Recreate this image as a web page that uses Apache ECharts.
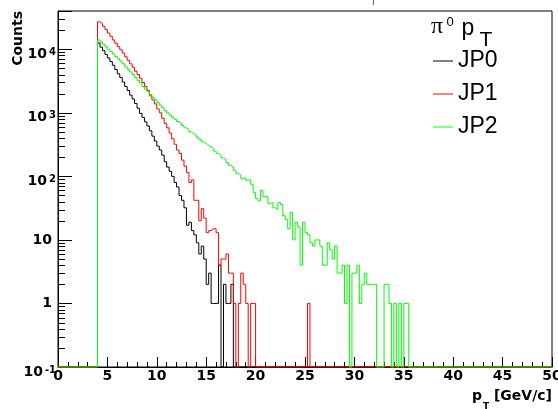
<!DOCTYPE html>
<html><head><meta charset="utf-8">
<script src="https://cdn.jsdelivr.net/npm/echarts@6/dist/echarts.min.js"></script>
<style>html,body{margin:0;padding:0;background:#fff}#c{width:558px;height:409px}</style>
</head><body><div id="c"></div>
<script>
// ---- data (histogram bin contents, bins of 0.25 GeV starting at 4.0 GeV) ----
const binWidth = 0.25;
const firstBinLow = 4.0;
const nBins = 200;           // 0 .. 50 GeV
const xMin = 0, xMax = 50, xInterval = 5;
const yMin = 0.1, yMax = 40000;
const seriesNames = ['JP0', 'JP1', 'JP2'];
const seriesColors = ['#000000', '#ff0000', '#00ff00'];

const jp0 = [12500,10800,9500,8300,7300,6400,5600,4800,4100,3600,3050,2600,2250,1900,1650,1400,
  1180,980,850,720,620,520,430,360,300,260,215,170,140,120,100,80,
  68,50,42,32,17,19,14,12,9,6,8,5,2,3,1,1,
  1,4,0,2,1,1,2];

const jp1 = [27000,25500,23000,20500,18000,16000,14000,12400,11000,9800,8700,7600,6700,5900,5200,4500,
  4000,3500,3000,2600,2250,1850,1600,1380,1150,1000,820,680,580,480,390,320,
  260,230,180,145,115,80,88,42,42,20,31,22,13,14,15,15,
  13,4,5,5,6,3,3,1,0,1,3,2,1,0,1,1,
  0,0,0,0,0,0,0,0,0,0,0,0,0,0,0,0,0,0,0,0,0,
  1];

const jp2 = [14000,13000,12000,11000,10000,9200,8400,7700,7100,6500,5900,5300,4800,4400,4000,3600,
  3250,2950,2600,2350,2150,1950,1750,1600,1450,1320,1200,1080,1000,920,850,790,
  730,680,630,580,550,500,470,450,410,380,350,330,310,290,275,250,
  230,215,195,185,165,150,140,125,112,105,92,95,87,88,75,56,
  45,41,60,48,48,37,39,32,30,39,36,24,21,15,27,10,
  19,16,4,19,13,12,9,8,10,10,8,4,4,9,7,5,
  8,3,3,4,1,4,0,3,3,4,1,2,3,2,2,2,
  2,0,0,0,2,2,1,0,1,0,1,0,1,1];

const yMinorTickValues = [];
for (let n = -1; n <= 4; n++) for (let k = 2; k <= 9; k++) {
  const v = k * Math.pow(10, n);
  if (v <= yMax) yMinorTickValues.push(v);
}

function histData(vals) {
  const start = Math.round(firstBinLow / binWidth);
  const pts = [];
  for (let i = 0; i < nBins; i++) {
    const k = i - start;
    const v = (k >= 0 && k < vals.length) ? vals[k] : 0;
    pts.push([i * binWidth, v > 0 ? v : yMin]);
  }
  pts.push([nBins * binWidth, pts[pts.length - 1][1]]);
  return pts;
}

const chart = echarts.init(document.getElementById('c'), null, {renderer: 'canvas'});
const F = 'DejaVu Sans';
const allVals = [jp0, jp1, jp2];

const option = {
  animation: false,
  backgroundColor: '#ffffff',
  grid: {left: 58, right: 6, top: 11, bottom: 42, show: true, borderColor: '#000', borderWidth: 1,
         containLabel: false, outerBoundsMode: 'none'},
  legend: {
    show: true, data: seriesNames, orient: 'vertical', left: 433, top: 49,
    itemWidth: 20, itemHeight: 1, itemGap: 9, icon: 'rect', padding: 0, selectedMode: false,
    textStyle: {fontFamily: 'Liberation Sans', fontSize: 23, color: '#000', lineHeight: 24}
  },
  xAxis: {
    type: 'value', min: xMin, max: xMax, interval: xInterval,
    axisLine: {show: true, onZero: false, lineStyle: {color: '#000', width: 1}},
    axisTick: {show: true, inside: true, length: 10, lineStyle: {color: '#000', width: 1}},
    minorTick: {show: true, splitNumber: 5, length: 5, lineStyle: {color: '#000', width: 1}},
    splitLine: {show: false},
    axisLabel: {fontFamily: F, fontWeight: 'bold', fontSize: 14, color: '#000', margin: 2}
  },
  yAxis: {
    type: 'log', logBase: 10, min: yMin, max: yMax,
    axisLine: {show: true, onZero: false, lineStyle: {color: '#000', width: 1}},
    axisTick: {show: true, inside: true, length: 14, lineStyle: {color: '#000', width: 1}},
    splitLine: {show: false},
    axisLabel: {
      margin: 2, color: '#000',
      formatter: function (v) {
        const l = Math.log10(v), e = Math.round(l);
        if (Math.abs(l - e) > 1e-6) return '';
        if (e === 0) return '{n|1}';
        if (e === 1) return '{n|10}';
        return '{b|10}{s|' + e + '}';
      },
      rich: {
        n: {fontFamily: F, fontWeight: 'bold', fontSize: 14, lineHeight: 14, padding: [0, 4, 0, 0], color: '#000'},
        b: {fontFamily: F, fontWeight: 'bold', fontSize: 14, lineHeight: 14, padding: [5, 0, 0, 0], verticalAlign: 'top', color: '#000'},
        s: {fontFamily: F, fontWeight: 'bold', fontSize: 10, lineHeight: 10, padding: [5, 0, 0, 2], verticalAlign: 'top', color: '#000'}
      }
    }
  },
  series: seriesNames.map((name, i) => ({
    name: name, type: 'line', step: 'end', data: histData(allVals[i]),
    showSymbol: false, symbol: 'none', clip: false, z: 2 + i,
    lineStyle: {color: seriesColors[i], width: 1}, itemStyle: {color: seriesColors[i]}
  })).concat([{
    name: 'yMinorTicks', type: 'custom', silent: true, clip: false, z: 1,
    data: yMinorTickValues.map(v => [xMin, v]),
    renderItem: function (params, api) {
      const p = api.coord([api.value(0), api.value(1)]);
      const y = Math.round(p[1]) + 0.5;
      return {type: 'line', shape: {x1: p[0], y1: y, x2: p[0] + 7, y2: y},
              style: {stroke: '#000', lineWidth: 1}};
    }
  }]),
  graphic: [
    {type: 'text', x: 18.5, y: 11, rotation: Math.PI / 2,
     style: {text: 'Counts', font: 'bold 14px "DejaVu Sans"', fill: '#000', align: 'right', verticalAlign: 'middle'}},
    {type: 'text', x: 552, y: 389,
     style: {text: '{b|p}{s|T}{b| [GeV/c]}', align: 'right', verticalAlign: 'top', fill: '#000',
       rich: {
         b: {fontFamily: F, fontWeight: 'bold', fontSize: 14, lineHeight: 14, verticalAlign: 'top', fill: '#000'},
         s: {fontFamily: F, fontWeight: 'bold', fontSize: 9, lineHeight: 9, padding: [13, 0, 0, 1], verticalAlign: 'top', fill: '#000'}
       }}},
    {type: 'text', x: 431, y: 26.9, style: {text: 'π', font: '24px "Liberation Serif"', fill: '#000', align: 'left', verticalAlign: 'middle'}},
    {type: 'text', x: 446.5, y: 22.5, style: {text: '0', font: '13px "Liberation Sans"', fill: '#000', align: 'left', verticalAlign: 'middle'}},
    {type: 'text', x: 461.5, y: 29, style: {text: 'p', font: '23px "Liberation Sans"', fill: '#000', align: 'left', verticalAlign: 'middle'}},
    {type: 'text', x: 479.5, y: 40.7, style: {text: 'T', font: '21px "Liberation Sans"', fill: '#000', align: 'left', verticalAlign: 'middle'}},
    {type: 'line', shape: {x1: 373.5, y1: 0, x2: 373.5, y2: 5}, style: {stroke: '#666', lineWidth: 1}}
  ]
};
chart.setOption(option);
</script>
</body></html>
